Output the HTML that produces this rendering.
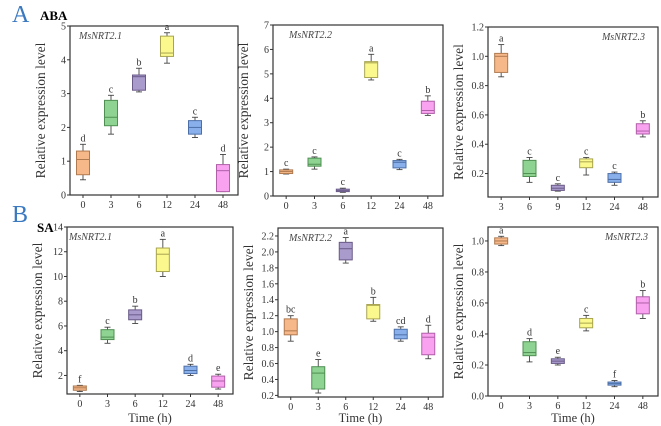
<!DOCTYPE html>
<html><head><meta charset="utf-8"><style>
html,body{margin:0;padding:0;background:#fff;}
svg{display:block;font-family:"Liberation Serif",serif;}
</style></head><body>
<svg id="c" width="661" height="426">
<text x="12" y="22" font-size="24" fill="#3a78c0">A</text>
<text x="40" y="20" font-size="13" font-weight="bold">ABA</text>
<text x="12" y="222" font-size="24" fill="#3a78c0">B</text>
<text x="37" y="232" font-size="13" font-weight="bold">SA</text>
</svg>
<script>
const colorsFill=["#f6b888","#8fd392","#a99bcc","#fbf98e","#89b0ea","#f8a2f0"];
const colorsLine=["#b07a50","#4f8f52","#6a5a88","#a8a450","#4d6fa8","#b060a8"];
// panel A1
const a1Cats=["0","3","6","12","24","48"];
const a1Min=[0.45,1.8,3.05,3.9,1.7,0.1];
const a1Q1=[0.6,2.05,3.1,4.1,1.8,0.1];
const a1Med=[1.05,2.3,3.5,4.2,2.0,0.72];
const a1Q3=[1.3,2.8,3.55,4.7,2.2,0.9];
const a1Max=[1.5,2.95,3.75,4.8,2.3,1.2];
const a1Let=["d","c","b","a","c","d"];
const a1Ticks=[0,1,2,3,4,5];
// panel A2
const a2Cats=["0","3","6","12","24","48"];
const a2Min=[0.9,1.1,0.15,4.75,1.08,3.3];
const a2Q1=[0.92,1.22,0.18,4.85,1.15,3.38];
const a2Med=[1.0,1.3,0.22,5.45,1.38,3.5];
const a2Q3=[1.07,1.55,0.28,5.5,1.45,3.88];
const a2Max=[1.1,1.6,0.32,5.8,1.5,4.1];
const a2Let=["c","c","c","a","c","b"];
const a2Ticks=[0,1,2,3,4,5,6,7];
// panel A3
const a3Cats=["3","6","9","12","24","48"];
const a3Min=[0.86,0.14,0.08,0.19,0.12,0.45];
const a3Q1=[0.89,0.18,0.085,0.24,0.14,0.47];
const a3Med=[1.0,0.2,0.1,0.28,0.16,0.49];
const a3Q3=[1.02,0.29,0.12,0.3,0.2,0.54];
const a3Max=[1.08,0.31,0.13,0.31,0.21,0.56];
const a3Let=["a","c","c","c","c","b"];
const a3Ticks=["0.2","0.4","0.6","0.8","1.0","1.2"];
// panel B1
const b1Cats=["0","3","6","12","24","48"];
const b1Min=[0.7,4.6,6.2,10,2.0,0.9];
const b1Q1=[0.8,4.9,6.5,10.4,2.15,1.05];
const b1Med=[1.0,5.1,6.9,11.8,2.4,1.55];
const b1Q3=[1.15,5.7,7.3,12.3,2.75,1.95];
const b1Max=[1.2,5.9,7.6,13,2.9,2.1];
const b1Let=["f","c","b","a","d","e"];
const b1Ticks=[2,4,6,8,10,12,14];
// panel B2
const b2Cats=["0","3","6","12","24","48"];
const b2Min=[0.88,0.23,1.86,1.13,0.88,0.66];
const b2Q1=[0.96,0.28,1.9,1.16,0.91,0.71];
const b2Med=[1.01,0.48,2.04,1.33,0.96,0.93];
const b2Q3=[1.16,0.56,2.12,1.34,1.03,0.98];
const b2Max=[1.2,0.65,2.18,1.43,1.06,1.08];
const b2Let=["bc","e","a","b","cd","d"];
const b2Ticks=["0.2","0.4","0.6","0.8","1.0","1.2","1.4","1.6","1.8","2.0","2.2"];
// panel B3
const b3Cats=["0","3","6","12","24","48"];
const b3Min=[0.97,0.22,0.2,0.42,0.06,0.5];
const b3Q1=[0.98,0.26,0.21,0.44,0.07,0.53];
const b3Med=[1.0,0.28,0.225,0.47,0.08,0.6];
const b3Q3=[1.02,0.35,0.24,0.5,0.09,0.64];
const b3Max=[1.03,0.37,0.25,0.52,0.1,0.68];
const b3Let=["a","d","e","c","f","b"];
const b3Ticks=["0.0","0.2","0.4","0.6","0.8","1.0"];

const NS="http://www.w3.org/2000/svg";
const svg=document.getElementById('c');
function mk(tag,attrs,parent,txt){const e=document.createElementNS(NS,tag);for(const k in attrs)e.setAttribute(k,attrs[k]);if(txt!==undefined)e.textContent=txt;(parent||svg).appendChild(e);return e;}

function panel(p){
  const g=mk('g',{});
  
  
  const y=v=>p.bottom-(v-p.ymin)/(p.ymax-p.ymin)*(p.bottom-p.top);
  const step=(p.right-p.left)/6;
  const x=i=>p.left+step*(i+0.5)-1;
  const fr=mk('rect',{x:p.left,y:p.top,width:p.right-p.left,height:p.bottom-p.top,fill:'none',stroke:'#333','stroke-width':1.2},g);
  
  
  p.ticks.forEach(t=>{const v=parseFloat(t);const yy=y(v);
    mk('line',{x1:p.left-3,x2:p.left,y1:yy,y2:yy,stroke:'#333'},g);
    const tl=mk('text',{x:p.left-4,y:yy+3.5,'font-size':10,'text-anchor':'end',fill:'#333'},g,String(t));
    
    
  });
  p.cats.forEach((c,i)=>{const xx=x(i);
    mk('line',{x1:xx,x2:xx,y1:p.bottom,y2:p.bottom+3,stroke:'#333'},g);
    const tl=mk('text',{x:xx,y:p.bottom+13,'font-size':10,'text-anchor':'middle',fill:'#333'},g,c);
    
    
    const bw=13;
    const bg=mk('g',{},g);
    
    
    mk('line',{x1:xx,x2:xx,y1:y(p.max[i]),y2:y(p.min[i]),stroke:'#444','stroke-width':0.9},bg);
    mk('line',{x1:xx-3,x2:xx+3,y1:y(p.max[i]),y2:y(p.max[i]),stroke:'#444','stroke-width':0.9},bg);
    mk('line',{x1:xx-3,x2:xx+3,y1:y(p.min[i]),y2:y(p.min[i]),stroke:'#444','stroke-width':0.9},bg);
    mk('rect',{x:xx-bw/2,y:y(p.q3[i]),width:bw,height:Math.max(1.5,y(p.q1[i])-y(p.q3[i])),fill:colorsFill[i],stroke:colorsLine[i],'stroke-width':1},bg);
    mk('line',{x1:xx-bw/2,x2:xx+bw/2,y1:y(p.med[i]),y2:y(p.med[i]),stroke:colorsLine[i],'stroke-width':1},bg);
    const lt=mk('text',{x:xx,y:y(p.max[i])-3,'font-size':10,'text-anchor':'middle',fill:'#333'},g,p.lets[i]);
    
    
  });
  const cy=(p.top+p.bottom)/2;
  const yt=mk('text',{x:p.left-25,y:cy,'font-size':13.5,'text-anchor':'middle',fill:'#333',transform:`rotate(-90 ${p.left-25} ${cy})`},g,'Relative expression level');
  
  
  const gt=mk('text',{x:p.gx,y:p.top+13,'font-size':10,'font-style':'italic','text-anchor':p.ga,fill:'#444'},g,p.gene);
  
  
  if(p.xt){const xt=mk('text',{x:(p.left+p.right)/2,y:422,'font-size':12.5,'text-anchor':'middle',fill:'#333'},g,'Time (h)');
    
    }
}
panel({name:'panel-a-msnrt2-1',left:70,right:238,top:26,bottom:195,ymin:0,ymax:5,cats:a1Cats,min:a1Min,q1:a1Q1,med:a1Med,q3:a1Q3,max:a1Max,lets:a1Let,ticks:a1Ticks,gene:'MsNRT2.1',gx:79,ga:'start'});
panel({name:'panel-a-msnrt2-2',left:273,right:443,top:25,bottom:196,ymin:0,ymax:7,cats:a2Cats,min:a2Min,q1:a2Q1,med:a2Med,q3:a2Q3,max:a2Max,lets:a2Let,ticks:a2Ticks,gene:'MsNRT2.2',gx:289,ga:'start'});
panel({name:'panel-a-msnrt2-3',left:488,right:658,top:27,bottom:197,ymin:0.04,ymax:1.2,cats:a3Cats,min:a3Min,q1:a3Q1,med:a3Med,q3:a3Q3,max:a3Max,lets:a3Let,ticks:a3Ticks,gene:'MsNRT2.3',gx:645,ga:'end'});
panel({name:'panel-b-msnrt2-1',left:67,right:233,top:227,bottom:394,ymin:0.5,ymax:14,cats:b1Cats,min:b1Min,q1:b1Q1,med:b1Med,q3:b1Q3,max:b1Max,lets:b1Let,ticks:b1Ticks,gene:'MsNRT2.1',gx:69,ga:'start',xt:1});
panel({name:'panel-b-msnrt2-2',left:278,right:443,top:228,bottom:397,ymin:0.18,ymax:2.3,cats:b2Cats,min:b2Min,q1:b2Q1,med:b2Med,q3:b2Q3,max:b2Max,lets:b2Let,ticks:b2Ticks,gene:'MsNRT2.2',gx:289,ga:'start',xt:1});
panel({name:'panel-b-msnrt2-3',left:488,right:658,top:227,bottom:396,ymin:0,ymax:1.09,cats:b3Cats,min:b3Min,q1:b3Q1,med:b3Med,q3:b3Q3,max:b3Max,lets:b3Let,ticks:b3Ticks,gene:'MsNRT2.3',gx:648,ga:'end',xt:1});
</script>
</body></html>
